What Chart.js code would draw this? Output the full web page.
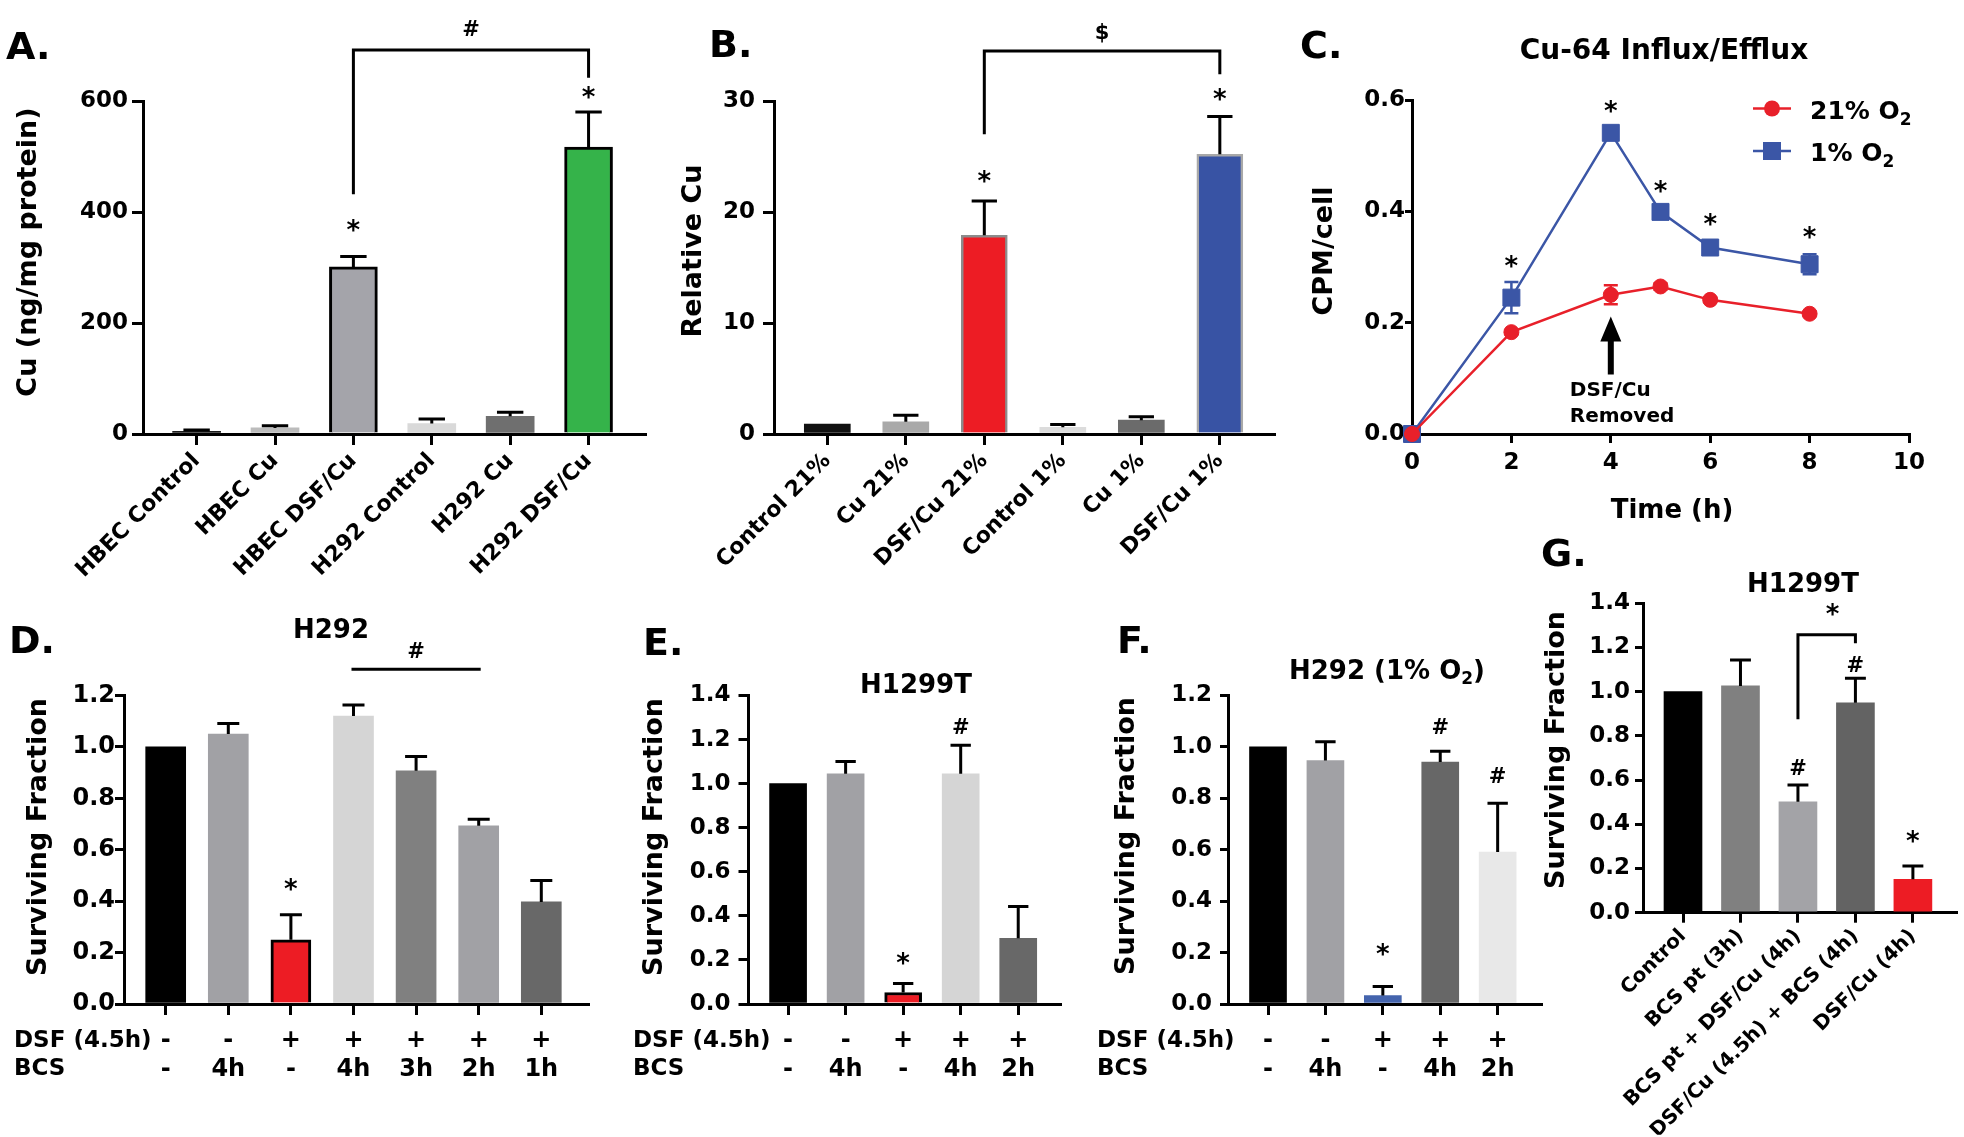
<!DOCTYPE html>
<html>
<head>
<meta charset="utf-8">
<script src="https://cdn.jsdelivr.net/npm/chart.js@4.4.1/dist/chart.umd.min.js"></script>
<style>
  html, body { margin: 0; padding: 0; background: #fff; }
  #page { position: relative; width: 1964px; height: 1137px; overflow: hidden; background: #fff; }
  #page canvas { position: absolute; left: 0; top: 0; }
</style>
</head>
<body>
<div id="page">
  <canvas id="panelA" width="1964" height="1137"></canvas>
  <canvas id="panelB" width="1964" height="1137"></canvas>
  <canvas id="panelC" width="1964" height="1137"></canvas>
  <canvas id="panelD" width="1964" height="1137"></canvas>
  <canvas id="panelE" width="1964" height="1137"></canvas>
  <canvas id="panelF" width="1964" height="1137"></canvas>
  <canvas id="panelG" width="1964" height="1137"></canvas>
</div>
<script>
// ---- A. Cu content (ng/mg protein)
const groupsA = ['HBEC Control', 'HBEC Cu', 'HBEC DSF/Cu', 'H292 Control', 'H292 Cu', 'H292 DSF/Cu'];
const cuA = [5, 11, 301, 19, 32, 517];
const cuErrA = [2, 4, 19, 8, 7, 63];
const ticksA = [0, 200, 400, 600];

// ---- B. Relative Cu, 21% vs 1% O2
const groupsB = ['Control 21%', 'Cu 21%', 'DSF/Cu 21%', 'Control 1%', 'Cu 1%', 'DSF/Cu 1%'];
const relCuB = [0.9, 1.1, 17.9, 0.6, 1.25, 25.2];
const relCuErrB = [0, 0.6, 3.1, 0.25, 0.3, 3.4];
const ticksB = [0, 10, 20, 30];

// ---- C. Cu-64 influx/efflux
const hoursC = [0, 2, 4, 5, 6, 8];
const cpm21 = [0, 0.183, 0.250, 0.265, 0.241, 0.216];
const cpm21Err = [0, 0.004, 0.017, 0.006, 0.004, 0.004];
const cpm1 = [0, 0.245, 0.541, 0.399, 0.335, 0.305];
const cpm1Err = [0, 0.028, 0.005, 0.007, 0.005, 0.018];
const ticksCx = [0, 2, 4, 6, 8, 10];
const ticksCy = [0, 0.2, 0.4, 0.6];

// ---- D. H292
const dsfD = ['-', '-', '+', '+', '+', '+', '+'];
const bcsD = ['-', '4h', '-', '4h', '3h', '2h', '1h'];
const sfD = [1.0, 1.05, 0.25, 1.12, 0.907, 0.693, 0.397];
const sfErrD = [0, 0.041, 0.097, 0.043, 0.056, 0.026, 0.083];

// ---- E. H1299T
const dsfE = ['-', '-', '+', '+', '+'];
const bcsE = ['-', '4h', '-', '4h', '2h'];
const sfE = [1.0, 1.045, 0.052, 1.045, 0.298];
const sfErrE = [0, 0.056, 0.041, 0.129, 0.145];

// ---- F. H292 (1% O2)
const dsfF = ['-', '-', '+', '+', '+'];
const bcsF = ['-', '4h', '-', '4h', '2h'];
const sfF = [1.0, 0.947, 0.033, 0.941, 0.591];
const sfErrF = [0, 0.073, 0.035, 0.042, 0.19];

// ---- G. H1299T
const groupsG = ['Control', 'BCS pt (3h)', 'BCS pt + DSF/Cu (4h)', 'DSF/Cu (4.5h) + BCS (4h)', 'DSF/Cu (4h)'];
const sfG = [1.0, 1.026, 0.502, 0.950, 0.151];
const sfErrG = [0, 0.117, 0.076, 0.111, 0.06];

const ticksSF12 = [0, 0.2, 0.4, 0.6, 0.8, 1.0, 1.2];
const ticksSF14 = [0, 0.2, 0.4, 0.6, 0.8, 1.0, 1.2, 1.4];

// significance marks: [category/x value, y value, symbol]
const marksA = [[2, 375, '*'], [5, 615, '*'], [3.5, 731, '#']];
const bracketsA = [[2, 432, 5, 642, 692]];
const marksB = [[2, 23.2, '*'], [5, 30.6, '*'], [3.5, 36.1, '$']];
const bracketsB = [[2, 27.0, 5, 32.4, 34.5]];
const marksC = [[2, 0.310, '*'], [4, 0.588, '*'], [5, 0.445, '*'], [6, 0.385, '*'], [8, 0.362, '*']];
const marksD = [[2, 0.464, '*'], [4, 1.378, '#']];
const linesD = [[3, 5, 1.302]];
const marksE = [[2, 0.206, '*'], [3, 1.263, '#']];
const marksF = [[2, 0.211, '*'], [3, 1.082, '#'], [4, 0.889, '#']];
const marksG = [[2, 0.661, '#'], [3, 1.125, '#'], [4, 0.344, '*'], [2.6, 1.370, '*']];
const bracketsG = [[2, 0.875, 3, 1.219, 1.258]];

const PAGE_W = 1964, PAGE_H = 1137;
const Y_W = 100;   // fixed y axis box width so plot areas land where they should
const FONT = '"DejaVu Sans", "Liberation Sans", sans-serif';
const RED = '#e8202a', BLUE = '#3b56a6';

Chart.defaults.font.family = FONT;
Chart.defaults.font.weight = 'bold';
Chart.defaults.color = '#000';

function font(size) {
  return 'bold ' + size + 'px ' + FONT;
}

// draws a run of [text, size, dy] pieces (used for subscripts)
function rich(ctx, parts, x, y, align) {
  let w = 0;
  parts.forEach(p => { ctx.font = font(p[1]); w += ctx.measureText(p[0]).width; });
  let cx = align === 'center' ? x - w / 2 : x;
  ctx.textAlign = 'left';
  ctx.textBaseline = 'alphabetic';
  parts.forEach(p => {
    ctx.font = font(p[1]);
    ctx.fillText(p[0], cx, y + (p[2] || 0));
    cx += ctx.measureText(p[0]).width;
  });
}

// star / hash / dollar centred on a point
function mark(ctx, s, px, py) {
  ctx.font = font(s === '*' ? 26 : 21);
  ctx.textAlign = 'center';
  ctx.textBaseline = 'alphabetic';
  const m = ctx.measureText(s);
  ctx.fillText(s, px, py + (m.actualBoundingBoxAscent - m.actualBoundingBoxDescent) / 2);
}

function errorBarPlugin(cfg) {
  const draw = chart => {
    const ctx = chart.ctx, y = chart.scales.y;
    ctx.save();
    ctx.lineWidth = cfg.width || 3;
    chart.data.datasets.forEach((ds, d) => {
      const errs = cfg.errors[d];
      ctx.strokeStyle = (cfg.colors && cfg.colors[d]) || '#000';
      chart.getDatasetMeta(d).data.forEach((el, i) => {
        const e = errs[i];
        if (!e) return;
        const v = ds.data[i].y;
        const hi = y.getPixelForValue(v + e);
        const lo = y.getPixelForValue(cfg.both ? v - e : v);
        const half = (cfg.cap || el.width * 0.55) / 2;
        ctx.beginPath();
        ctx.moveTo(el.x, lo);
        ctx.lineTo(el.x, hi);
        ctx.moveTo(el.x - half, hi);
        ctx.lineTo(el.x + half, hi);
        if (cfg.both) {
          ctx.moveTo(el.x - half, lo);
          ctx.lineTo(el.x + half, lo);
        }
        ctx.stroke();
      });
    });
    ctx.restore();
  };
  return cfg.under ? {id: 'errorBars', beforeDatasetsDraw: draw} : {id: 'errorBars', afterDatasetsDraw: draw};
}

// panel letter, titles, significance marks, row headers
function decorPlugin(p) {
  return {
    id: 'decor',
    afterDraw(chart) {
      const ctx = chart.ctx, area = chart.chartArea;
      const X = v => chart.scales.x.getPixelForValue(v);
      const Y = v => chart.scales.y.getPixelForValue(v);
      ctx.save();
      ctx.fillStyle = '#000';
      ctx.strokeStyle = '#000';
      ctx.lineWidth = 3;

      ctx.font = font(38);
      ctx.textAlign = 'left';
      ctx.textBaseline = 'alphabetic';
      ctx.fillText(p.letter[0], p.letter[1], p.letter[2]);

      if (p.title) rich(ctx, p.title.parts, p.title.x, p.title.y, 'center');

      ctx.save();
      ctx.translate(p.yTitle[1], p.yTitle[2]);
      ctx.rotate(-Math.PI / 2);
      ctx.font = font(27);
      ctx.textAlign = 'center';
      ctx.textBaseline = 'middle';
      ctx.fillText(p.yTitle[0], 0, 0);
      ctx.restore();

      (p.brackets || []).forEach(([i1, v1, i2, v2, vt]) => {
        ctx.beginPath();
        ctx.moveTo(X(i1), Y(v1));
        ctx.lineTo(X(i1), Y(vt));
        ctx.lineTo(X(i2), Y(vt));
        ctx.lineTo(X(i2), Y(v2));
        ctx.stroke();
      });
      (p.lines || []).forEach(([i1, i2, v]) => {
        ctx.beginPath();
        ctx.moveTo(X(i1) - 2, Y(v));
        ctx.lineTo(X(i2) + 2, Y(v));
        ctx.stroke();
      });
      (p.marks || []).forEach(([i, v, s]) => mark(ctx, s, X(i), Y(v)));

      if (p.rows) {
        const r = p.rows;
        ctx.font = font(r.size);
        ctx.textAlign = 'left';
        ctx.textBaseline = 'middle';
        r.labels.forEach((t, j) => {
          ctx.fillText(t, r.x, area.bottom + r.offset + r.lineHeight * (j + 0.5));
        });
      }
      if (p.extra) p.extra(chart, ctx, X, Y);
      ctx.restore();
    }
  };
}

function axisY(p) {
  return {
    min: p.yTicks[0], max: p.yTicks[p.yTicks.length - 1], bounds: 'data',
    afterFit: s => { s.width = Y_W; },
    afterBuildTicks: s => { s.ticks = p.yTicks.map(v => ({value: v})); },
    grid: {drawOnChartArea: false, tickLength: p.yTick[0], lineWidth: 3, color: '#000'},
    border: {display: true, color: '#000', width: 3},
    ticks: {padding: p.yTick[1], font: {size: p.yFont || 23}, callback: v => v.toFixed(p.yDigits)}
  };
}

function axisX(p, tickValues) {
  return {
    type: 'linear', min: p.xRange[0], max: p.xRange[1], bounds: 'data', offset: false,
    afterFit: s => { s.height = p.xH; },   // tall enough that labels are not clipped
    afterBuildTicks: s => { s.ticks = tickValues.map(v => ({value: v})); },
    grid: {offset: false, drawOnChartArea: false, tickLength: p.xTick[0], lineWidth: 3, color: '#000'},
    border: {display: true, color: '#000', width: 3},
    ticks: {
      autoSkip: false, minRotation: p.rotate || 0, maxRotation: p.rotate || 0,
      padding: p.xTick[1], font: {size: p.xFont, lineHeight: p.lineHeight || 1.2},
      callback: v => p.xLabel(v)
    }
  };
}

function padFor(box, xH) {
  return {left: box.left - Y_W, top: box.top, right: PAGE_W - box.right, bottom: PAGE_H - box.bottom - xH};
}

function barPanel(id, p) {
  const idx = p.values.map((v, i) => i);
  return new Chart(document.getElementById(id), {
    type: 'bar',
    data: {
      datasets: [{
        data: p.values.map((v, i) => ({x: i, y: v})),
        backgroundColor: p.colors,
        borderColor: p.borderColors || '#000',
        borderWidth: p.borderWidths || 0,
        barThickness: p.barWidth
      }]
    },
    options: {
      responsive: false,
      animation: false,
      devicePixelRatio: 1,
      layout: {padding: padFor(p.box, p.xH)},
      scales: {x: axisX(p, idx), y: axisY(p)},
      plugins: {legend: {display: false}, tooltip: {enabled: false}}
    },
    plugins: [errorBarPlugin({errors: [p.errors]}), decorPlugin(p.decor)]
  });
}

// ---------- A ----------
barPanel('panelA', {
  box: {left: 143, top: 101, right: 645, bottom: 434}, xH: 200,
  xRange: [-0.684, 5.72],
  values: cuA, errors: cuErrA,
  colors: ['#1c1c1c', '#bcbcbc', '#a4a4aa', '#d9d9d9', '#6f6f6f', '#35b34a'],
  borderWidths: [0, 0, 3, 0, 0, 3],
  barWidth: 48,
  yTicks: ticksA, yDigits: 0, yTick: [11, 4],
  xTick: [11, 3], xFont: 22, rotate: 45,
  xLabel: v => groupsA[v],
  decor: {
    letter: ['A.', 6, 59],
    yTitle: ['Cu (ng/mg protein)', 29, 252],
    marks: marksA, brackets: bracketsA
  }
});

// ---------- B ----------
barPanel('panelB', {
  box: {left: 774, top: 101, right: 1274, bottom: 434}, xH: 200,
  xRange: [-0.679, 5.69],
  values: relCuB, errors: relCuErrB,
  colors: ['#111111', '#a9a9a9', '#ed1c24', '#dcdcdc', '#6b6b6b', '#3853a4'],
  borderColors: ['#000', '#000', '#8c8c8c', '#000', '#000', '#a8a8a8'],
  borderWidths: [0, 0, 2.5, 0, 0, 2.5],
  barWidth: 46,
  yTicks: ticksB, yDigits: 0, yTick: [11, 8],
  xTick: [11, 3], xFont: 22, rotate: 45,
  xLabel: v => groupsB[v],
  decor: {
    letter: ['B.', 709, 57],
    yTitle: ['Relative Cu', 694, 251],
    marks: marksB, brackets: bracketsB
  }
});

// ---------- C ----------
const boxC = {left: 1412, top: 100, right: 1909, bottom: 434};
new Chart(document.getElementById('panelC'), {
  type: 'line',
  data: {
    datasets: [
      {
        label: '21% O2',
        data: hoursC.map((h, i) => ({x: h, y: cpm21[i]})),
        borderColor: RED, backgroundColor: RED, borderWidth: 2.5,
        pointStyle: 'circle', pointRadius: 7.5, pointBorderWidth: 1,
        pointBackgroundColor: RED, pointBorderColor: RED, tension: 0, clip: false
      },
      {
        label: '1% O2',
        data: hoursC.map((h, i) => ({x: h, y: cpm1[i]})),
        borderColor: BLUE, backgroundColor: BLUE, borderWidth: 2.5,
        pointStyle: 'rect', pointRadius: 12, pointBorderWidth: 1,
        pointBackgroundColor: BLUE, pointBorderColor: BLUE, tension: 0, clip: false
      }
    ]
  },
  options: {
    responsive: false,
    animation: false,
    devicePixelRatio: 1,
    layout: {padding: padFor(boxC, 60)},
    scales: {
      x: axisX({xRange: [0, 10], xH: 60, xTick: [9, 6], xFont: 23, xLabel: v => String(v)}, ticksCx),
      y: axisY({yTicks: ticksCy, yDigits: 1, yTick: [7, 0]})
    },
    plugins: {legend: {display: false}, tooltip: {enabled: false}}
  },
  plugins: [
    errorBarPlugin({errors: [cpm21Err, cpm1Err], colors: [RED, BLUE], cap: 14, both: true, under: true, width: 2.5}),
    decorPlugin({
      letter: ['C.', 1300, 58],
      title: {parts: [['Cu-64 Influx/Efflux', 28]], x: 1664, y: 59},
      yTitle: ['CPM/cell', 1325, 251],
      marks: marksC,
      extra: (chart, ctx, X, Y) => {
        const area = chart.chartArea;
        // x axis title
        rich(ctx, [['Time (h)', 26]], 1672, 518, 'center');
        // arrow at wash-out time
        const ax = X(4), tip = Y(0.211), base = Y(0.166), tail = Y(0.107);
        ctx.beginPath();
        ctx.moveTo(ax, tip);
        ctx.lineTo(ax + 10.5, base);
        ctx.lineTo(ax + 3, base);
        ctx.lineTo(ax + 3, tail);
        ctx.lineTo(ax - 3, tail);
        ctx.lineTo(ax - 3, base);
        ctx.lineTo(ax - 10.5, base);
        ctx.closePath();
        ctx.fill();
        rich(ctx, [['DSF/Cu', 20]], ax - 41, tail + 22, 'left');
        rich(ctx, [['Removed', 20]], ax - 41, tail + 48, 'left');
        // legend
        const rows = [
          {y: 108.5, color: RED, style: 'circle', label: '21% O'},
          {y: 151, color: BLUE, style: 'rect', label: '1% O'}
        ];
        rows.forEach(r => {
          const x0 = area.right - 156, xm = area.right - 137, x1 = area.right - 118;
          ctx.strokeStyle = r.color;
          ctx.fillStyle = r.color;
          ctx.lineWidth = 2.5;
          ctx.beginPath();
          ctx.moveTo(x0, r.y);
          ctx.lineTo(x1, r.y);
          ctx.stroke();
          ctx.beginPath();
          if (r.style === 'circle') ctx.arc(xm, r.y, 8, 0, Math.PI * 2);
          else ctx.rect(xm - 9, r.y - 9, 18, 18);
          ctx.fill();
          ctx.fillStyle = '#000';
          rich(ctx, [[r.label, 25], ['2', 17, 6]], area.right - 99, r.y + 10, 'left');
        });
      }
    })
  ]
});

// ---------- D ----------
const rowsDSF = ['DSF (4.5h)', 'BCS'];
barPanel('panelD', {
  box: {left: 124, top: 695.5, right: 588, bottom: 1004}, xH: 120,
  xRange: [-0.666, 6.746],
  values: sfD, errors: sfErrD,
  colors: ['#000000', '#a1a1a5', '#ed1c24', '#d5d5d5', '#808080', '#a1a1a5', '#686868'],
  borderWidths: [0, 0, 3, 0, 0, 0, 0],
  barWidth: 40,
  yTicks: ticksSF12, yDigits: 1, yTick: [9, 0], yFont: 24,
  xTick: [11, 12], xFont: 24, lineHeight: 1.18,
  xLabel: v => [dsfD[v], bcsD[v]],
  decor: {
    letter: ['D.', 9, 653],
    title: {parts: [['H292', 26]], x: 331, y: 638},
    yTitle: ['Surviving Fraction', 39, 837],
    marks: marksD, lines: linesD,
    rows: {x: 14, labels: rowsDSF, size: 23, offset: 23, lineHeight: 28.3}
  }
});

// ---------- E ----------
barPanel('panelE', {
  box: {left: 748.5, top: 695.5, right: 1060, bottom: 1004}, xH: 120,
  xRange: [-0.688, 4.726],
  values: sfE, errors: sfErrE,
  colors: ['#000000', '#a1a1a5', '#ed1c24', '#d5d5d5', '#686868'],
  borderWidths: [0, 0, 3, 0, 0],
  barWidth: 37,
  yTicks: ticksSF14, yDigits: 1, yTick: [10, 8],
  xTick: [11, 12], xFont: 24, lineHeight: 1.18,
  xLabel: v => [dsfE[v], bcsE[v]],
  decor: {
    letter: ['E.', 643, 655],
    title: {parts: [['H1299T', 26]], x: 916, y: 693},
    yTitle: ['Surviving Fraction', 655, 837],
    marks: marksE,
    rows: {x: 633, labels: rowsDSF, size: 23, offset: 23, lineHeight: 28.3}
  }
});

// ---------- F ----------
barPanel('panelF', {
  box: {left: 1228, top: 695.5, right: 1541, bottom: 1004}, xH: 120,
  xRange: [-0.697, 4.755],
  values: sfF, errors: sfErrF,
  colors: ['#000000', '#a1a1a5', '#4464ad', '#676767', '#e8e8e8'],
  barWidth: 37,
  yTicks: ticksSF12, yDigits: 1, yTick: [8, 8],
  xTick: [11, 12], xFont: 24, lineHeight: 1.18,
  xLabel: v => [dsfF[v], bcsF[v]],
  decor: {
    letter: ['F.', 1117, 653],
    title: {parts: [['H292 (1% O', 26], ['2', 17, 5], [')', 26]], x: 1387, y: 679},
    yTitle: ['Surviving Fraction', 1127, 836],
    marks: marksF,
    rows: {x: 1097, labels: rowsDSF, size: 23, offset: 23, lineHeight: 28.3}
  }
});

// ---------- G ----------
barPanel('panelG', {
  box: {left: 1643, top: 603.3, right: 1956, bottom: 912.7}, xH: 222,
  xRange: [-0.696, 4.75],
  values: sfG, errors: sfErrG,
  colors: ['#000000', '#808080', '#a3a3a7', '#636363', '#ed1c24'],
  barWidth: 38,
  yTicks: ticksSF14, yDigits: 1, yTick: [8, 5],
  xTick: [10, 2], xFont: 20, rotate: 45,
  xLabel: v => groupsG[v],
  decor: {
    letter: ['G.', 1541, 566],
    title: {parts: [['H1299T', 26]], x: 1803, y: 592},
    yTitle: ['Surviving Fraction', 1557, 750],
    marks: marksG, brackets: bracketsG
  }
});
</script>
</body>
</html>
